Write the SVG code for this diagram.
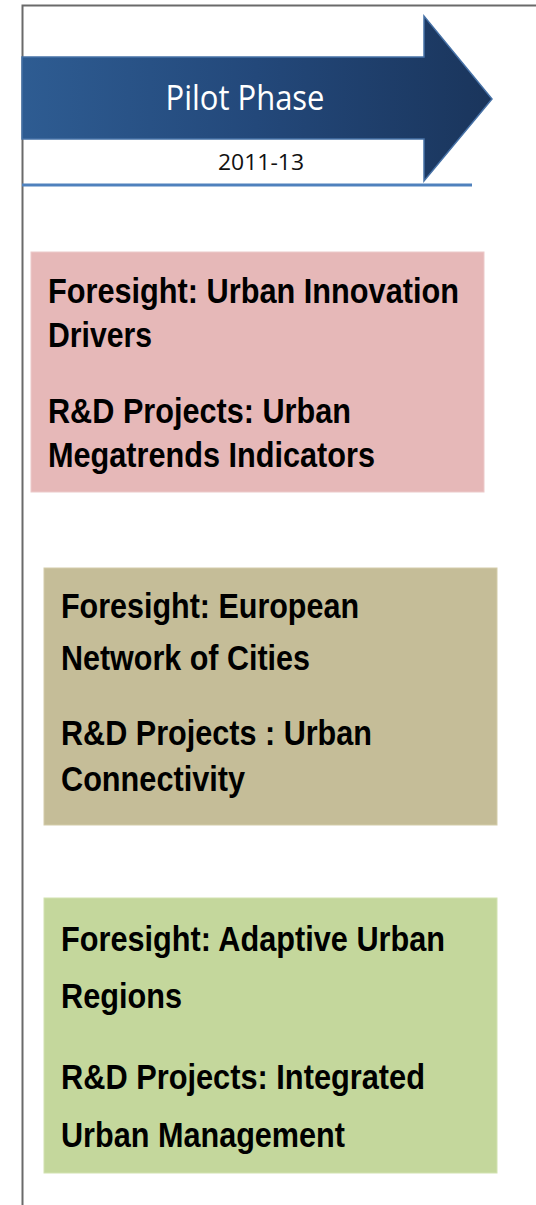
<svg xmlns="http://www.w3.org/2000/svg" width="536" height="1205" viewBox="0 0 536 1205">
  <defs>
    <linearGradient id="arrowGrad" x1="0" y1="0" x2="1" y2="0">
      <stop offset="0" stop-color="#2e5c92"/>
      <stop offset="0.5" stop-color="#23487a"/>
      <stop offset="1" stop-color="#1a355c"/>
    </linearGradient>
  </defs>
  <style>
    .frame { fill: none; stroke: #6a6a6a; stroke-width: 2; }
    .box-text { font-family: "Liberation Sans", Arial, sans-serif; font-weight: bold; font-size: 35px; fill: #000; }
    .title { font-family: "Open Sans", "Noto Sans", sans-serif; font-size: 34px; fill: #ffffff; }
    .years { font-family: "Open Sans", "Noto Sans", sans-serif; font-size: 22px; fill: #111; }
  </style>
  <rect x="0" y="0" width="536" height="1205" fill="#ffffff"/>
  <path class="frame" d="M22.5,1205 V5.5 H536"/>

  <g id="phase-arrow">
    <path d="M22,57 H424 V16 L492,99 L424,181 V139 H22 Z" fill="url(#arrowGrad)" stroke="#4671a6" stroke-width="1.5"/>
    <line x1="22" y1="185" x2="472" y2="185" stroke="#4f81bd" stroke-width="3"/>
    <text class="title" x="245" y="110" text-anchor="middle" textLength="159" lengthAdjust="spacingAndGlyphs">Pilot Phase</text>
    <text class="years" x="261" y="170" text-anchor="middle" textLength="86" lengthAdjust="spacingAndGlyphs">2011-13</text>
  </g>

  <g id="box-urban-innovation">
    <rect x="31" y="252" width="453" height="240" fill="#e6b8b8" stroke="#eccaca" stroke-width="1"/>
    <text class="box-text" x="48" y="303" textLength="411" lengthAdjust="spacingAndGlyphs">Foresight: Urban Innovation</text>
    <text class="box-text" x="48" y="347" textLength="104" lengthAdjust="spacingAndGlyphs">Drivers</text>
    <text class="box-text" x="48" y="423" textLength="303" lengthAdjust="spacingAndGlyphs">R&amp;D Projects: Urban</text>
    <text class="box-text" x="48" y="467" textLength="327" lengthAdjust="spacingAndGlyphs">Megatrends Indicators</text>
  </g>

  <g id="box-european-network">
    <rect x="44" y="568" width="453" height="257" fill="#c5bd98" stroke="#d3cca9" stroke-width="1"/>
    <text class="box-text" x="61" y="618" textLength="298" lengthAdjust="spacingAndGlyphs">Foresight: European</text>
    <text class="box-text" x="61" y="670" textLength="249" lengthAdjust="spacingAndGlyphs">Network of Cities</text>
    <text class="box-text" x="61" y="745" textLength="311" lengthAdjust="spacingAndGlyphs">R&amp;D Projects : Urban</text>
    <text class="box-text" x="61" y="791" textLength="184" lengthAdjust="spacingAndGlyphs">Connectivity</text>
  </g>

  <g id="box-adaptive-regions">
    <rect x="44" y="898" width="453" height="275" fill="#c4d79c" stroke="#d2e2b0" stroke-width="1"/>
    <text class="box-text" x="61" y="951" textLength="384" lengthAdjust="spacingAndGlyphs">Foresight: Adaptive Urban</text>
    <text class="box-text" x="61" y="1008" textLength="121" lengthAdjust="spacingAndGlyphs">Regions</text>
    <text class="box-text" x="61" y="1089" textLength="364" lengthAdjust="spacingAndGlyphs">R&amp;D Projects: Integrated</text>
    <text class="box-text" x="61" y="1147" textLength="284" lengthAdjust="spacingAndGlyphs">Urban Management</text>
  </g>

  <g id="connectors"/>
</svg>
